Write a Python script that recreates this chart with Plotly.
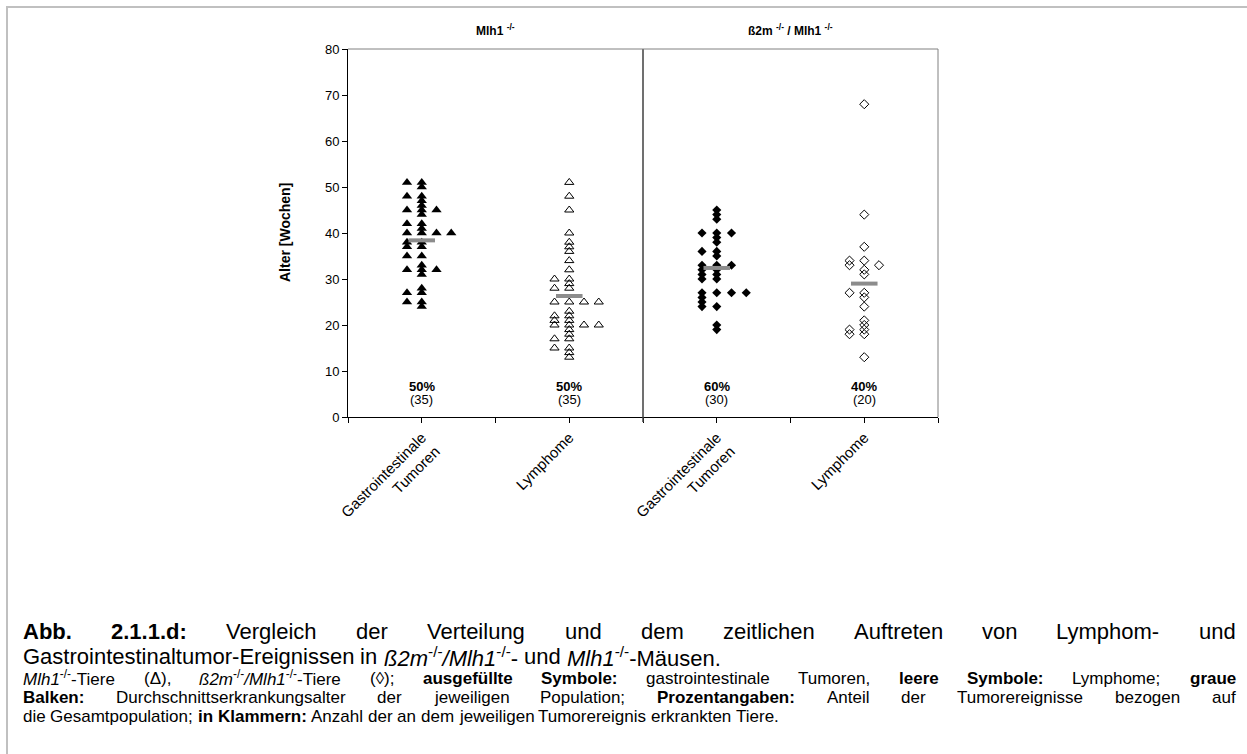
import plotly.graph_objects as go

# ---------------- data ----------------
categories = ["Gastrointestinale<br>Tumoren", "Lymphome", "Gastrointestinale<br>Tumoren", "Lymphome"]
group_titles = ["Mlh1 <sup>-/-</sup>", "ß2m <sup>-/-</sup> / Mlh1 <sup>-/-</sup>"]
percent_labels = ["50%", "50%", "60%", "40%"]
count_labels = ["(35)", "(35)", "(30)", "(20)"]
mean_age = [38.4, 26.3, 32.4, 29.0]
y_ticks = [0, 10, 20, 30, 40, 50, 60, 70, 80]

# Mlh1-/- : gastrointestinal tumours (filled triangles)
mlh1_gi_age = [51, 48, 45, 42, 40, 38, 37, 35, 32, 27, 25,
               51, 50, 48, 47, 46, 45, 44, 42, 41, 40, 38, 37, 35, 33, 32, 31, 28, 27, 25, 24,
               45, 40, 32,
               40]
mlh1_gi_slot = [-1] * 11 + [0] * 20 + [1] * 3 + [2] * 1

# Mlh1-/- : lymphomas (open triangles)
mlh1_ly_age = [30, 28, 25, 22, 21, 20, 17, 15,
               51, 48, 45, 40, 38, 37, 36, 34, 32, 30, 29, 28, 25, 23, 22, 21, 20, 19, 18, 17, 15, 14, 13,
               25, 20,
               25, 20]
mlh1_ly_slot = [-1] * 8 + [0] * 23 + [1] * 2 + [2] * 2

# b2m-/-/Mlh1-/- : gastrointestinal tumours (filled diamonds)
b2m_gi_age = [40, 36, 33, 32, 31, 30, 27, 26, 25, 24,
              45, 44, 43, 40, 39, 38, 36, 35, 33, 32, 31, 30, 27, 24, 20, 19,
              40, 33, 27,
              27]
b2m_gi_slot = [-1] * 10 + [0] * 16 + [1] * 3 + [2] * 1

# b2m-/-/Mlh1-/- : lymphomas (open diamonds)
b2m_ly_age = [34, 33, 27, 19, 18,
              68, 44, 37, 34, 32, 31, 27, 26, 24, 21, 20, 19, 18, 13,
              33]
b2m_ly_slot = [-1] * 5 + [0] * 14 + [1] * 1

# ---------------- layout geometry (pixels) ----------------
W, H = 1247, 754
PL, PR, PT, PB = 348, 938, 49, 417
SLOT_W = 0.1
FONT = "Liberation Sans, Arial, sans-serif"


def px_x(px):
    return (px - PL) / (PR - PL)


def px_y(py):
    return (PB - py) / (PB - PT)


fig = go.Figure()

series = [
    (mlh1_gi_age, mlh1_gi_slot, 0, dict(symbol="triangle-up", size=9, color="black", line=dict(width=0))),
    (mlh1_ly_age, mlh1_ly_slot, 1, dict(symbol="triangle-up-open", size=8, color="black", line=dict(width=1))),
    (b2m_gi_age, b2m_gi_slot, 2, dict(symbol="diamond", size=7, color="black", line=dict(width=0))),
    (b2m_ly_age, b2m_ly_slot, 3, dict(symbol="diamond-open", size=7, color="black", line=dict(width=1))),
]
for ages, slots, ci, mk in series:
    fig.add_trace(go.Scatter(
        x=[ci + s * SLOT_W for s in slots], y=ages, mode="markers",
        marker=mk, hoverinfo="y", showlegend=False))

for ci, m in enumerate(mean_age):
    fig.add_trace(go.Scatter(x=[ci - 0.09, ci + 0.09], y=[m, m], mode="lines",
                             line=dict(color="#8c8c8c", width=4), showlegend=False, hoverinfo="skip"))

fig.update_layout(
    width=W, height=H,
    margin=dict(l=PL, r=W - PR, t=PT, b=H - PB, pad=0),
    paper_bgcolor="white", plot_bgcolor="white",
    font=dict(family=FONT, color="black"),
    showlegend=False,
    xaxis=dict(range=[-0.5, 3.5], tickvals=[0, 1, 2, 3], ticktext=categories, tickangle=-45,
               ticks="outside", ticklen=5, tickcolor="black", showline=True, linecolor="black",
               linewidth=1, showgrid=False, zeroline=False, tickfont=dict(size=15, family=FONT),
               minor=dict(tick0=-0.5, dtick=1, ticks="outside", ticklen=5, tickcolor="black", showgrid=False)),
    yaxis=dict(range=[0, 80], tickvals=y_ticks, ticks="outside", ticklen=5, tickcolor="black",
               showline=True, linecolor="black", linewidth=1, showgrid=False, zeroline=False,
               tickfont=dict(size=13, family=FONT)),
)

shapes = []
# divider between the two genotypes
shapes.append(dict(type="line", xref="x", yref="paper", x0=1.5, x1=1.5, y0=px_y(PB + 5), y1=1,
                   line=dict(color="#404040", width=1.5)))
# top and right border of plot area
shapes.append(dict(type="line", xref="paper", yref="paper", x0=0, x1=1, y0=1, y1=1,
                   line=dict(color="#808080", width=1)))
shapes.append(dict(type="line", xref="paper", yref="paper", x0=1, x1=1, y0=0, y1=1,
                   line=dict(color="#808080", width=1)))
# outer page frame
shapes.append(dict(type="line", xref="paper", yref="paper", x0=px_x(7), x1=px_x(7), y0=px_y(7), y1=px_y(H + 2),
                   line=dict(color="#c0c0c0", width=2)))
shapes.append(dict(type="line", xref="paper", yref="paper", x0=px_x(6), x1=px_x(W + 2), y0=px_y(7), y1=px_y(7),
                   line=dict(color="#c0c0c0", width=2)))
fig.update_layout(shapes=shapes)

ann = []
# group titles
ann.append(dict(text="<b>" + group_titles[0] + "</b>", x=0.5, xref="x", y=px_y(30), yref="paper",
                showarrow=False, font=dict(size=12), xanchor="center", yanchor="middle"))
ann.append(dict(text="<b>" + group_titles[1] + "</b>", x=2.5, xref="x", y=px_y(30), yref="paper",
                showarrow=False, font=dict(size=12), xanchor="center", yanchor="middle"))
# percentages and counts
for ci in range(4):
    ann.append(dict(text="<b>" + percent_labels[ci] + "</b>", x=ci, xref="x", y=6.7, yref="y",
                    showarrow=False, font=dict(size=13), xanchor="center", yanchor="middle"))
    ann.append(dict(text=count_labels[ci], x=ci, xref="x", y=3.9, yref="y",
                    showarrow=False, font=dict(size=13), xanchor="center", yanchor="middle"))
# y title
ann.append(dict(text="<b>Alter [Wochen]</b>", x=px_x(285), xref="paper", y=0.5, yref="paper",
                textangle=-90, showarrow=False, font=dict(size=14), xanchor="center", yanchor="middle"))

# ---------------- caption ----------------
REG = {' ': 278, '!': 278, '(': 333, ')': 333, ',': 278, '-': 333, '.': 278, '/': 278, ':': 278, ';': 278,
       '%': 889, '[': 278, ']': 278, 'Δ': 612, '◊': 494, 'ß': 611, 'ä': 556, 'ü': 556, 'ö': 556,
       'A': 667, 'B': 667, 'C': 722, 'D': 722, 'E': 667, 'F': 611, 'G': 778, 'H': 722, 'I': 278, 'J': 500,
       'K': 667, 'L': 556, 'M': 833, 'N': 722, 'O': 778, 'P': 667, 'Q': 778, 'R': 722, 'S': 667, 'T': 611,
       'U': 722, 'V': 667, 'W': 944, 'X': 667, 'Y': 667, 'Z': 611,
       'a': 556, 'b': 556, 'c': 500, 'd': 556, 'e': 556, 'f': 278, 'g': 556, 'h': 556, 'i': 222, 'j': 222,
       'k': 500, 'l': 222, 'm': 833, 'n': 556, 'o': 556, 'p': 556, 'q': 556, 'r': 333, 's': 500, 't': 278,
       'u': 556, 'v': 500, 'w': 722, 'x': 500, 'y': 500, 'z': 500}
BOLD = dict(REG)
BOLD.update({':': 333, ';': 333, 'A': 722, 'B': 722, 'J': 556, 'K': 722, 'L': 611,
             'b': 611, 'c': 556, 'd': 611, 'f': 333, 'g': 611, 'h': 611, 'i': 278, 'j': 278, 'k': 556,
             'l': 278, 'm': 889, 'n': 611, 'o': 611, 'p': 611, 'q': 611, 'r': 389, 's': 556, 't': 333,
             'u': 611, 'v': 556, 'w': 778, 'x': 556, 'y': 556, 'ü': 611, 'ö': 611})


def seg_width(txt, st, size):
    fs = size * 0.7 if 's' in st else size
    tbl = BOLD if 'b' in st else REG
    return sum(tbl.get(c, 556) for c in txt) * fs / 1000.0


def seg_html(txt, st):
    t = txt
    if 'b' in st:
        t = "<b>" + t + "</b>"
    if 'i' in st:
        t = "<i>" + t + "</i>"
    if 's' in st:
        t = "<sup>" + t + "</sup>"
    return t


def word(*segs):
    return list(segs)


def add_line(words, baseline, size, justify, left=22, right=1235):
    widths = [sum(seg_width(t, s, size) for t, s in w) for w in words]
    if justify and len(words) > 1:
        gap = (right - left - sum(widths)) / (len(words) - 1)
    else:
        gap = REG[' '] * size / 1000.0
    x = left
    ymid = baseline - 0.33 * size
    for w, wd in zip(words, widths):
        ann.append(dict(text="".join(seg_html(t, s) for t, s in w), x=px_x(x), xref="paper",
                        y=px_y(ymid), yref="paper", showarrow=False, xanchor="left", yanchor="middle",
                        font=dict(size=size, family=FONT, color="black"), borderpad=0))
        x += wd + gap


BIG, SMALL = 22, 17
line1 = [word(("Abb.", "b")), word(("2.1.1.d:", "b")), word(("Vergleich", "")), word(("der", "")),
         word(("Verteilung", "")), word(("und", "")), word(("dem", "")), word(("zeitlichen", "")),
         word(("Auftreten", "")), word(("von", "")), word(("Lymphom-", "")), word(("und", ""))]
line2 = [word(("Gastrointestinaltumor-Ereignissen", "")), word(("in", "")),
         word(("ß2m", "i"), ("-/-", "s"), ("/Mlh1", "i"), ("-/-", "s"), ("-", "")), word(("und", "")),
         word(("Mlh1", "i"), ("-/-", "s"), ("-Mäusen.", ""))]
line3 = [word(("Mlh1", "i"), ("-/-", "s"), ("-Tiere", "")), word(("(Δ),", "")),
         word(("ß2m", "i"), ("-/-", "s"), ("/Mlh1", "i"), ("-/-", "s"), ("-Tiere", "")), word(("(◊);", "")),
         word(("ausgefüllte", "b")), word(("Symbole:", "b")), word(("gastrointestinale", "")),
         word(("Tumoren,", "")), word(("leere", "b")), word(("Symbole:", "b")), word(("Lymphome;", "")),
         word(("graue", "b"))]
line4 = [word(("Balken:", "b")), word(("Durchschnittserkrankungsalter", "")), word(("der", "")),
         word(("jeweiligen", "")), word(("Population;", "")), word(("Prozentangaben:", "b")),
         word(("Anteil", "")), word(("der", "")), word(("Tumorereignisse", "")), word(("bezogen", "")),
         word(("auf", ""))]
line5 = [word(("die", "")), word(("Gesamtpopulation;", "")), word(("in", "b")), word(("Klammern:", "b")),
         word(("Anzahl", "")), word(("der", "")), word(("an", "")), word(("dem", "")), word(("jeweiligen", "")),
         word(("Tumorereignis", "")), word(("erkrankten", "")), word(("Tiere.", ""))]

add_line(line1, 639, BIG, True)
add_line(line2, 664, BIG, False)
add_line(line3, 684, SMALL, True)
add_line(line4, 703, SMALL, True)
add_line(line5, 722, SMALL, False)

fig.update_layout(annotations=ann)
fig.write_html("out.html")
